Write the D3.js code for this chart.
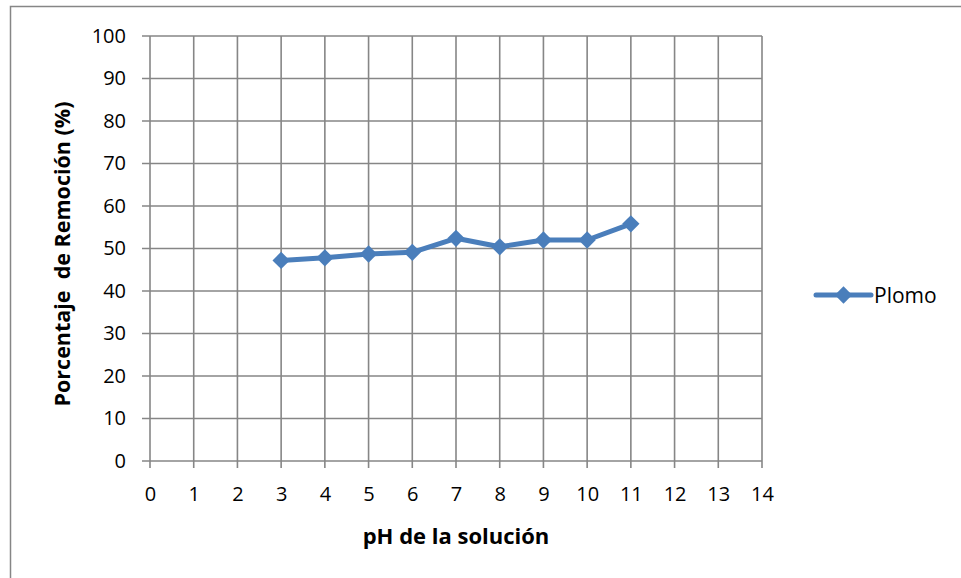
<!DOCTYPE html>
<html>
<head>
<meta charset="utf-8">
<script src="https://cdn.jsdelivr.net/npm/d3@7"></script>
<style>
  html, body { margin: 0; padding: 0; background: #fff; }
  svg { display: block; font-family: "Open Sans", "Noto Sans", sans-serif; }
</style>
</head>
<body>
<svg id="chart" width="961" height="578"></svg>
<script>
// pH values and lead (Plomo) removal percentages
const phValues = [3, 4, 5, 6, 7, 8, 9, 10, 11];
const plomo = [47.2, 47.8, 48.7, 49.1, 52.4, 50.4, 52.0, 52.0, 55.8];
const xTicks = d3.range(0, 15);
const yTicks = d3.range(0, 101, 10);
const seriesName = "Plomo";
const xTitle = "pH de la solución";
const yTitle = "Porcentaje  de Remoción (%)";

(function draw() {
  const svg = d3.select("#chart");
  const plotLeft = 150, plotRight = 762, plotTop = 36, plotBottom = 461;
  const gridColor = "#868686";
  const blue = "#4a7ebb";

  // outer chart frame
  svg.append("rect")
    .attr("x", 10.5).attr("y", 6.5)
    .attr("width", 1000).attr("height", 1000)
    .attr("fill", "none").attr("stroke", gridColor).attr("stroke-width", 1.5);

  const x = d3.scaleLinear().domain([0, 14]).range([plotLeft, plotRight]);
  const y = d3.scaleLinear().domain([0, 100]).range([plotBottom, plotTop]);

  // grid
  const g = svg.append("g");
  g.selectAll("line.h").data(yTicks).join("line").attr("class", "h")
    .attr("x1", plotLeft - 8).attr("x2", plotRight)
    .attr("y1", d => y(d)).attr("y2", d => y(d))
    .attr("stroke", gridColor).attr("stroke-width", 1.6);
  g.selectAll("line.v").data(xTicks).join("line").attr("class", "v")
    .attr("x1", d => x(d)).attr("x2", d => x(d))
    .attr("y1", plotTop).attr("y2", plotBottom + 7)
    .attr("stroke", gridColor).attr("stroke-width", 1.6);

  // tick labels from d3 axes (axis lines removed)
  const yAxis = svg.append("g").attr("transform", `translate(${plotLeft},0)`)
    .call(d3.axisLeft(y).tickValues(yTicks).tickSize(0).tickPadding(24));
  const xAxis = svg.append("g").attr("transform", `translate(0,${plotBottom})`)
    .call(d3.axisBottom(x).tickValues(xTicks).tickSize(0).tickPadding(26));
  [yAxis, xAxis].forEach(a => {
    a.select(".domain").remove();
    a.selectAll("text").attr("font-size", 20).attr("fill", "#000")
      .attr("font-family", "'Open Sans', 'Noto Sans', sans-serif");
  });

  // series line and diamond markers
  const line = d3.line().x((d, i) => x(phValues[i])).y(d => y(d));
  svg.append("path").datum(plomo)
    .attr("d", line).attr("fill", "none")
    .attr("stroke", blue).attr("stroke-width", 5).attr("stroke-linejoin", "round");
  const diamond = d3.symbol().type(d3.symbolSquare).size(150);
  svg.selectAll("path.m").data(plomo).join("path")
    .attr("class", "m")
    .attr("d", diamond)
    .attr("transform", (d, i) => `translate(${x(phValues[i])},${y(d)}) rotate(45)`)
    .attr("fill", blue);

  // legend
  const lg = svg.append("g").attr("transform", "translate(816,295)");
  lg.append("line").attr("x1", 0).attr("x2", 55).attr("y1", 0).attr("y2", 0)
    .attr("stroke", blue).attr("stroke-width", 5).attr("stroke-linecap", "round");
  lg.append("path").attr("d", diamond).attr("transform", "translate(27.5,0) rotate(45)").attr("fill", blue);
  lg.append("text").attr("x", 58).attr("y", 7.5).attr("font-size", 21).text(seriesName);

  // titles
  svg.append("text").attr("x", 456).attr("y", 544).attr("text-anchor", "middle")
    .attr("font-size", 22).attr("font-weight", "bold").text(xTitle);
  svg.append("text").attr("transform", "translate(70,254) rotate(-90)")
    .attr("text-anchor", "middle").attr("font-size", 21.5).attr("font-weight", "bold")
    .style("white-space", "pre").text(yTitle);
})();
</script>
</body>
</html>
